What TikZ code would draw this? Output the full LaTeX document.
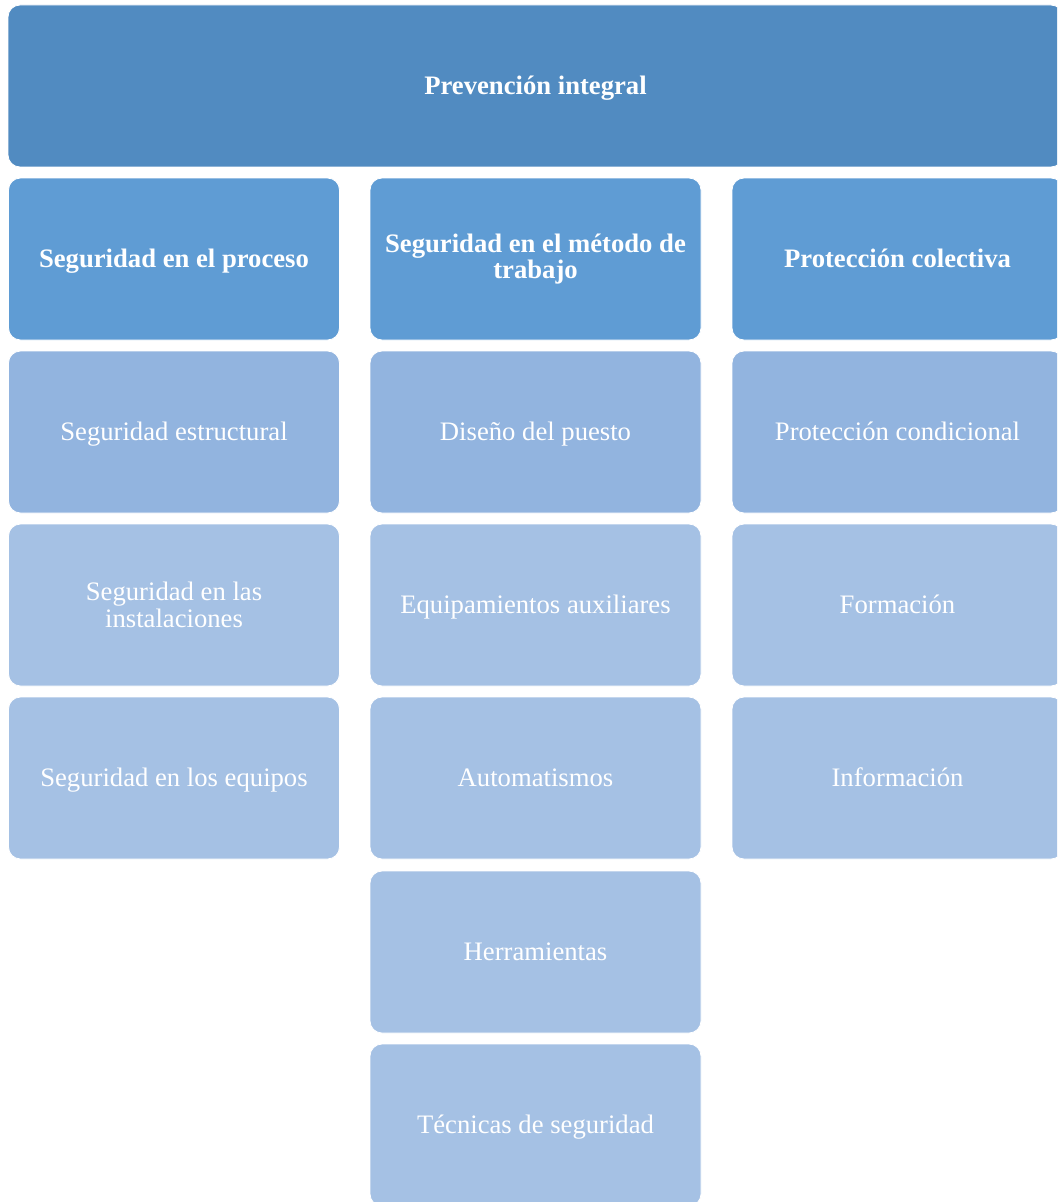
\documentclass[tikz,border=0pt]{standalone}
\usepackage{fontspec}
\setmainfont{Liberation Serif}

\definecolor{toplevel}{RGB}{81,139,193}
\definecolor{headlevel}{RGB}{95,156,212}
\definecolor{firstlevel}{RGB}{146,180,223}
\definecolor{itemlevel}{RGB}{165,193,228}

\def\colA{174}
\def\colB{535.5}
\def\colC{897.5}

\tikzset{
  block/.style={draw=white, line width=0.6pt, rounded corners=9pt, inner sep=0pt,
    minimum width=248.25pt, minimum height=121.5pt, text=white, align=center,
    font=\fontsize{20}{20}\selectfont},
  oneline/.style={text height=16.8pt, text depth=4pt},
  topblock/.style={block, oneline, fill=toplevel, minimum width=791.25pt, font=\fontsize{20}{20}\selectfont\bfseries},
  headblock/.style={block, fill=headlevel, font=\fontsize{20}{20}\selectfont\bfseries},
  firstblock/.style={block, oneline, fill=firstlevel},
  itemblock/.style={block, fill=itemlevel}
}

\begin{document}
\begin{tikzpicture}[x=0.75pt, y=-0.75pt]
  \useasboundingbox (0,0) rectangle (1057,1202);
  \clip (0,0) rectangle (1057,1202);
  % top level
  \node[topblock] (integral) at (\colB,86) {Prevención integral};
  % column headers
  \node[headblock, oneline] (proceso) at (\colA,259) {Seguridad en el proceso};
  \node[headblock] (metodo) at (\colB,259) {Seguridad en el método de\\trabajo};
  \node[headblock, oneline] (colectiva) at (\colC,259) {Protección colectiva};
  % first column
  \node[firstblock] (estructural) at (\colA,432) {Seguridad estructural};
  \node[itemblock] (instalaciones) at (\colA,605) {Seguridad en las\\instalaciones};
  \node[itemblock, oneline] (equipos) at (\colA,778) {Seguridad en los equipos};
  % second column
  \node[firstblock] (puesto) at (\colB,432) {Diseño del puesto};
  \node[itemblock, oneline] (auxiliares) at (\colB,605) {Equipamientos auxiliares};
  \node[itemblock, oneline] (automatismos) at (\colB,778) {Automatismos};
  \node[itemblock, oneline] (herramientas) at (\colB,952) {Herramientas};
  \node[itemblock, oneline] (tecnicas) at (\colB,1125) {Técnicas de seguridad};
  % third column
  \node[firstblock] (condicional) at (\colC,432) {Protección condicional};
  \node[itemblock, oneline] (formacion) at (\colC,605) {Formación};
  \node[itemblock, oneline] (informacion) at (\colC,778) {Información};
\end{tikzpicture}
\end{document}
